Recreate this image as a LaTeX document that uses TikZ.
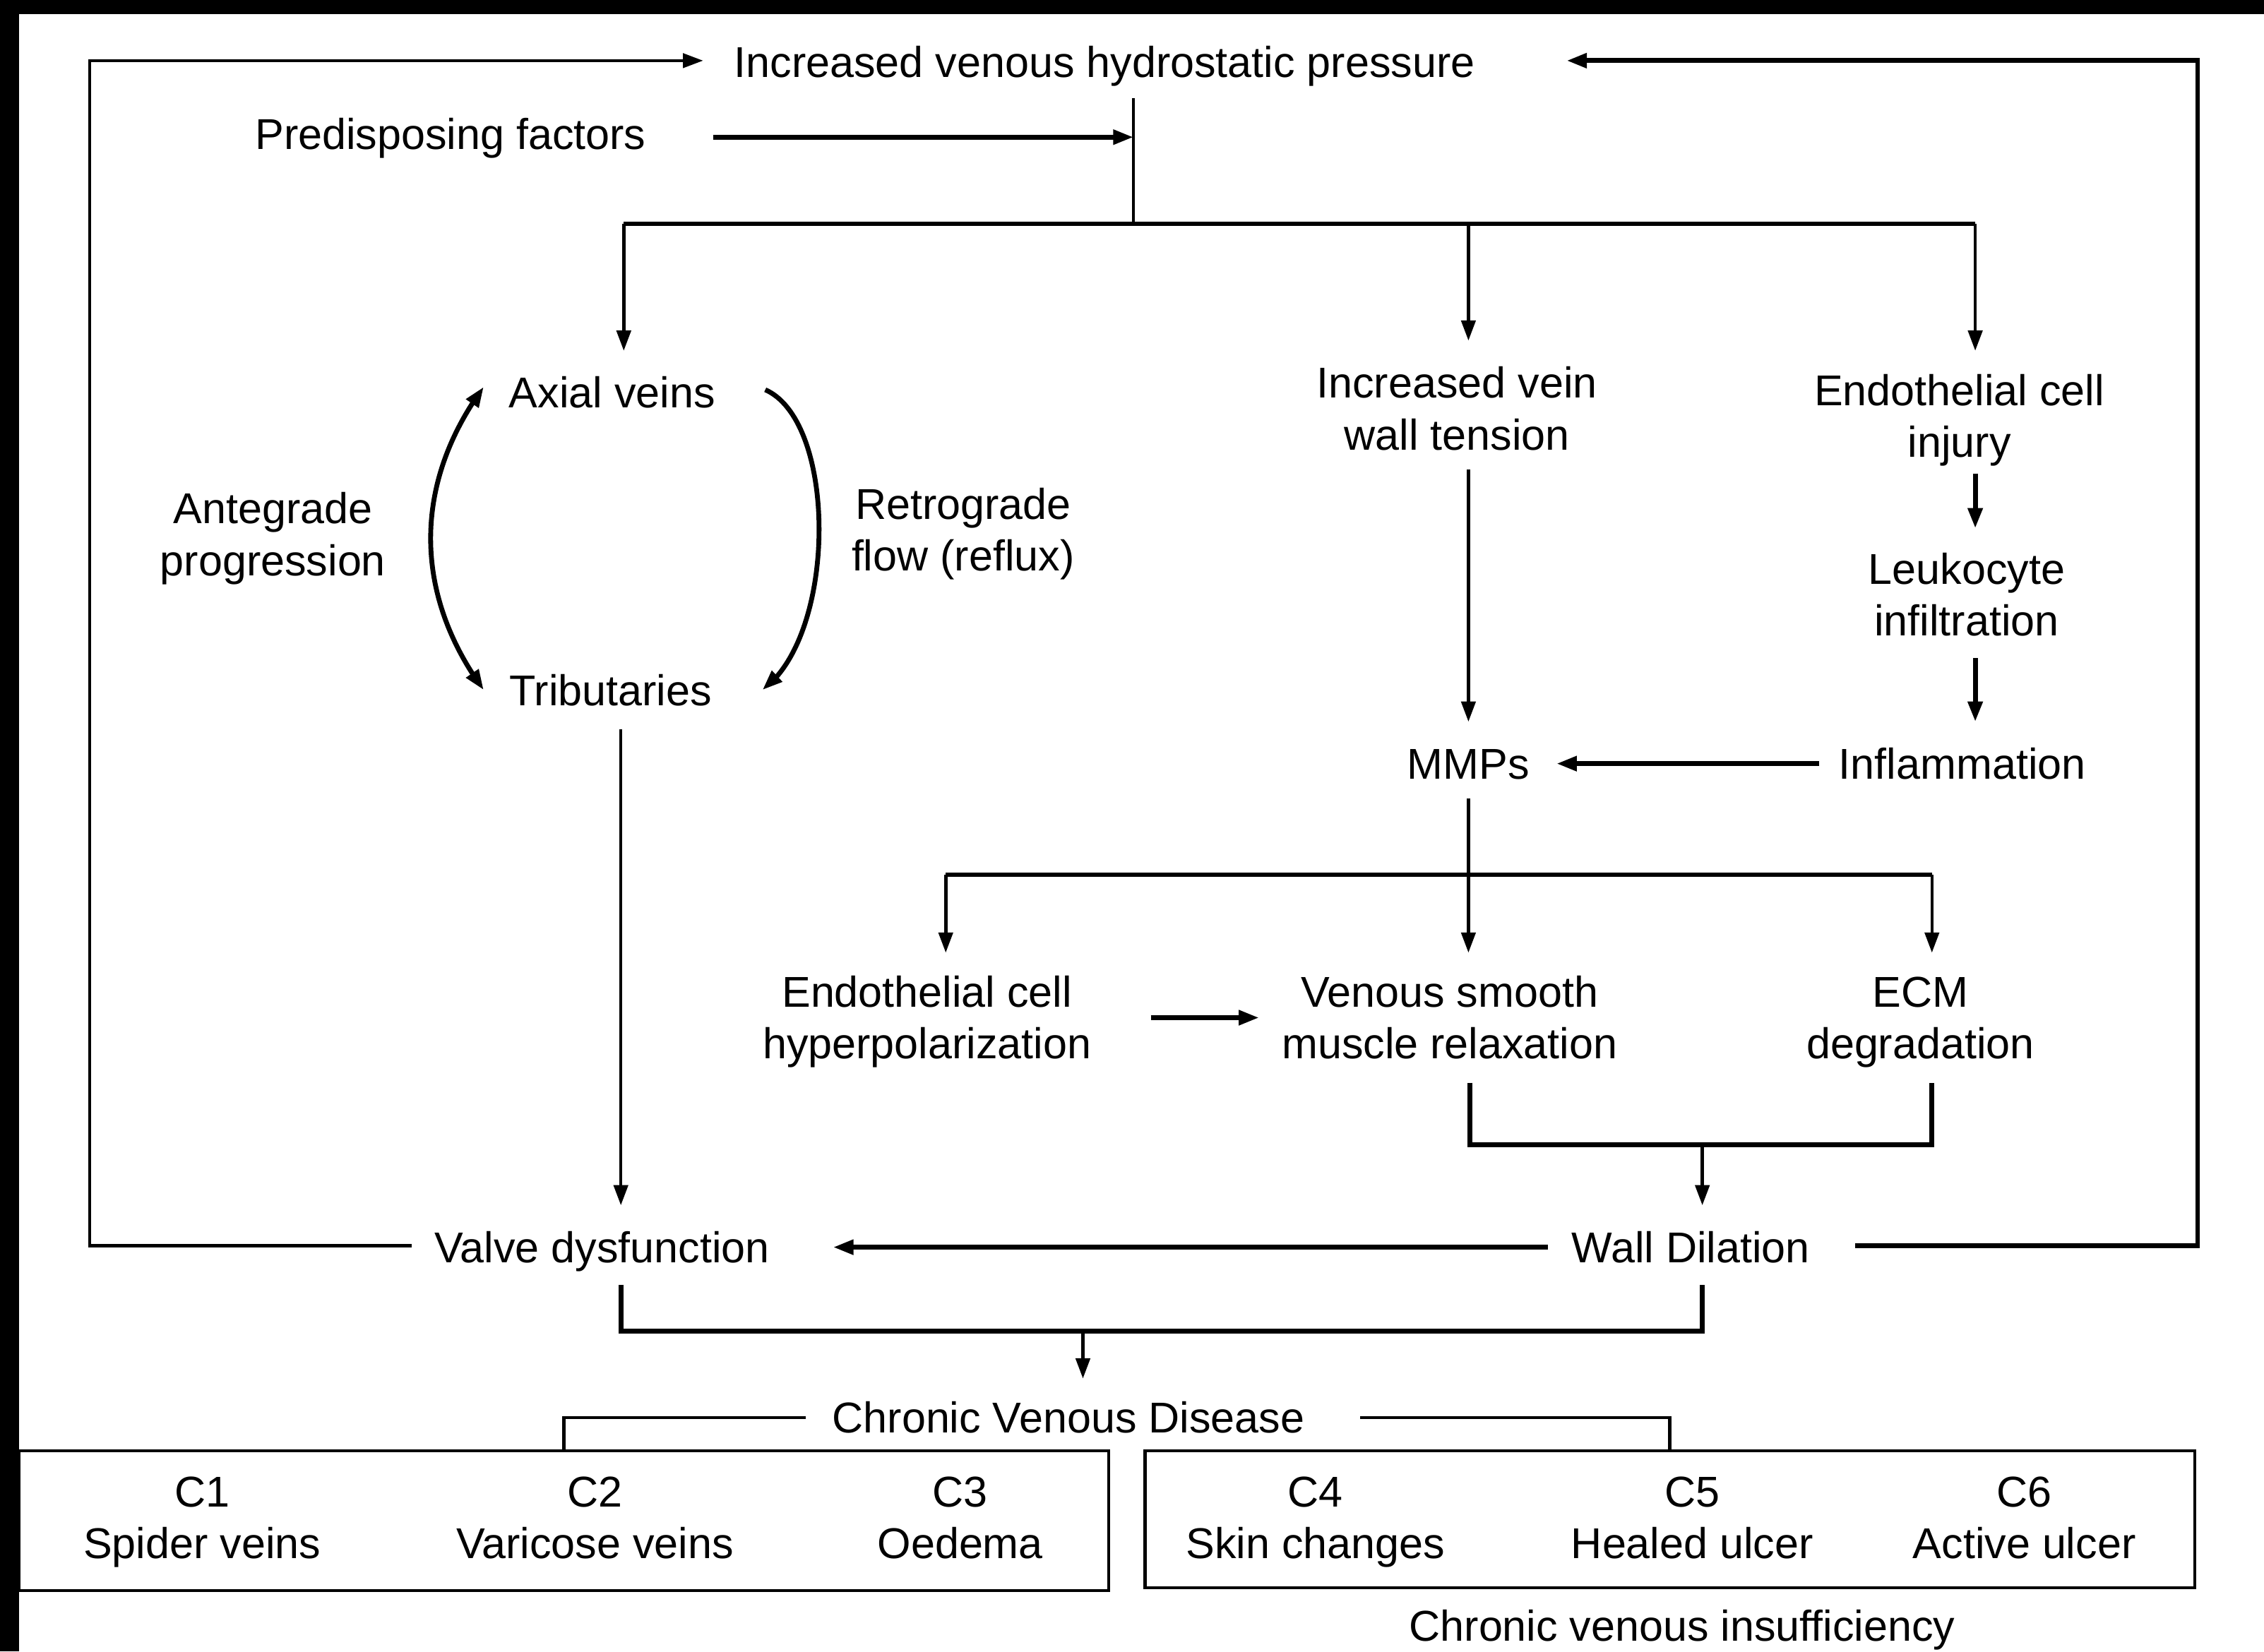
\documentclass[tikz,border=0pt]{standalone}
\usepackage{fontspec}
\setmainfont{Liberation Sans}
\usetikzlibrary{arrows.meta,bending}
\newcommand{\myfs}{\fontsize{17}{20.4}\selectfont}
\begin{document}
\begin{tikzpicture}[x=0.02cm,y=-0.02cm,
  lbl/.style={font=\myfs, align=center, inner sep=0pt},
  medln/.style={line width=1.25pt},
  thkln/.style={line width=1.9pt},
  arr/.style={-{Triangle[length=8pt,width=5.6pt]}},
  darr/.style={{Triangle[length=8pt,width=5.6pt]}-{Triangle[length=8pt,width=5.6pt]}},
  boxed/.style={draw, line width=1.25pt, inner sep=0pt}]
\useasboundingbox (0,0) rectangle (1568,1144);
\fill[white] (0,0) rectangle (1568,1144);
\fill[black] (0,0) rectangle (1568,10);
\fill[black] (0,0) rectangle (13,1144);

% text nodes
\node[lbl] (ivp) at (765,46.5) {Increased venous hydrostatic pressure\strut};
\node[lbl] (pf) at (312,96.5) {Predisposing factors\strut};
\node[lbl] (av) at (424,275.5) {Axial veins\strut};
\node[lbl] (tr) at (423,481.5) {Tributaries\strut};
\node[lbl] (ap) at (189,373.5) {Antegrade\strut\\progression\strut};
\node[lbl] (rf) at (667,370.5) {Retrograde\strut\\flow (reflux)\strut};
\node[lbl] (ivw) at (1009,286.5) {Increased vein\strut\\wall tension\strut};
\node[lbl] (eci) at (1357,291.5) {Endothelial cell\strut\\injury\strut};
\node[lbl] (li) at (1362,415.5) {Leukocyte\strut\\infiltration\strut};
\node[lbl] (infl) at (1359,532.5) {Inflammation\strut};
\node[lbl] (mmp) at (1017,532.5) {MMPs\strut};
\node[lbl] (ech) at (642,708.5) {Endothelial cell\strut\\hyperpolarization\strut};
\node[lbl] (vsm) at (1004,708.5) {Venous smooth\strut\\muscle relaxation\strut};
\node[lbl] (ecm) at (1330,708.5) {ECM\strut\\degradation\strut};
\node[lbl] (vd) at (417,867.5) {Valve dysfunction\strut};
\node[lbl] (wd) at (1171,867.5) {Wall Dilation\strut};
\node[lbl] (cvd) at (740,985.5) {Chronic Venous Disease\strut};

% boxes
\node[boxed, minimum width=15.1cm, minimum height=1.94cm] (lbox) at (390.5,1053.5) {};
\node[boxed, minimum width=14.54cm, minimum height=1.9cm] (rbox) at (1156.5,1052.5) {};
\node[lbl] (c1) at (140,1054.5) {C1\strut\\Spider veins\strut};
\node[lbl] (c2) at (412,1054.5) {C2\strut\\Varicose veins\strut};
\node[lbl] (c3) at (665,1054.5) {C3\strut\\Oedema\strut};
\node[lbl] (c4) at (911,1054.5) {C4\strut\\Skin changes\strut};
\node[lbl] (c5) at (1172,1054.5) {C5\strut\\Healed ulcer\strut};
\node[lbl] (c6) at (1402,1054.5) {C6\strut\\Active ulcer\strut};
\node[lbl] (cvi) at (1165,1129.5) {Chronic venous insufficiency\strut};

% coordinates
\coordinate (vdW) at (285,863);
\coordinate (lc1) at (62,863);
\coordinate (lc2) at (62,42);
\coordinate (ivpW) at (487,42);
\coordinate (wdE) at (1285,863);
\coordinate (rc1) at (1522,863);
\coordinate (rc2) at (1522,42);
\coordinate (ivpE) at (1085,42);
\coordinate (pfE) at (494,95);
\coordinate (jt) at (785,68);
\coordinate (jp) at (785,95);
\coordinate (jb) at (785,155);
\coordinate (b0) at (432,155);
\coordinate (b1) at (1017,155);
\coordinate (b2) at (1368,155);
\coordinate (avN) at (432,243);
\coordinate (ivwN) at (1017,236);
\coordinate (eciN) at (1368,243);
\coordinate (la1) at (335,268);
\coordinate (la2) at (335,478);
\coordinate (ra1) at (530,270);
\coordinate (ra2) at (528,478);
\coordinate (trS) at (430,505);
\coordinate (vdN) at (430,835);
\coordinate (ivwS) at (1017,325);
\coordinate (mmpN) at (1017,500);
\coordinate (eciS) at (1368,328);
\coordinate (liN) at (1368,366);
\coordinate (liS) at (1368,456);
\coordinate (inflN) at (1368,500);
\coordinate (inflW) at (1260,529);
\coordinate (mmpE) at (1078,529);
\coordinate (mmpS) at (1017,553);
\coordinate (m0) at (655,606);
\coordinate (m1) at (1017,606);
\coordinate (m2) at (1338,606);
\coordinate (echN) at (655,660);
\coordinate (vsmN) at (1017,660);
\coordinate (ecmN) at (1338,660);
\coordinate (echE) at (797,705);
\coordinate (vsmW) at (872,705);
\coordinate (vsmS) at (1018,750);
\coordinate (ecmS) at (1338,750);
\coordinate (wj) at (1179,793);
\coordinate (wdN) at (1179,835);
\coordinate (wdWe) at (1072,864);
\coordinate (vdE) at (577,864);
\coordinate (vdS) at (430,890);
\coordinate (wdS) at (1179,890);
\coordinate (cj) at (750,922);
\coordinate (cvdN) at (750,955);
\coordinate (cvdW) at (558,982);
\coordinate (cvdE) at (942,982);

% feedback loops
\draw[medln,arr] (vdW) -- (lc1) -- (lc2) -- (ivpW);
\draw[thkln,arr] (wdE) -- (rc1) -- (rc2) -- (ivpE);

% top section
\draw[thkln,arr] (pfE) -- (jp);
\draw[medln] (jt) -- (jb);
\draw[thkln] (b0) -- (b2);
\draw[medln,arr] (b0) -- (avN);
\draw[medln,arr] (b1) -- (ivwN);
\draw[medln,arr] (b2) -- (eciN);

% arcs
\draw[thkln,darr] (la1) .. controls (286,335) and (286,411) .. (la2);
\draw[thkln,arr] (ra1) .. controls (580,292) and (580,440) .. (ra2);

% vertical chains
\draw[medln,arr] (trS) -- (vdN);
\draw[medln,arr] (ivwS) -- (mmpN);
\draw[thkln,arr] (eciS) -- (liN);
\draw[thkln,arr] (liS) -- (inflN);
\draw[thkln,arr] (inflW) -- (mmpE);

% MMP bus
\draw[medln] (mmpS) -- (m1);
\draw[thkln] (m0) -- (m2);
\draw[medln,arr] (m0) -- (echN);
\draw[medln,arr] (m1) -- (vsmN);
\draw[medln,arr] (m2) -- (ecmN);
\draw[thkln,arr] (echE) -- (vsmW);

% bracket to wall dilation
\draw[thkln] (vsmS) |- (wj) -| (ecmS);
\draw[medln,arr] (wj) -- (wdN);
\draw[thkln,arr] (wdWe) -- (vdE);

% bracket to CVD
\draw[thkln] (vdS) |- (cj) -| (wdS);
\draw[medln,arr] (cj) -- (cvdN);

% CVD to boxes
\draw[medln] (cvdW) -| (lbox.north);
\draw[medln] (cvdE) -| (rbox.north);
\end{tikzpicture}
\end{document}
